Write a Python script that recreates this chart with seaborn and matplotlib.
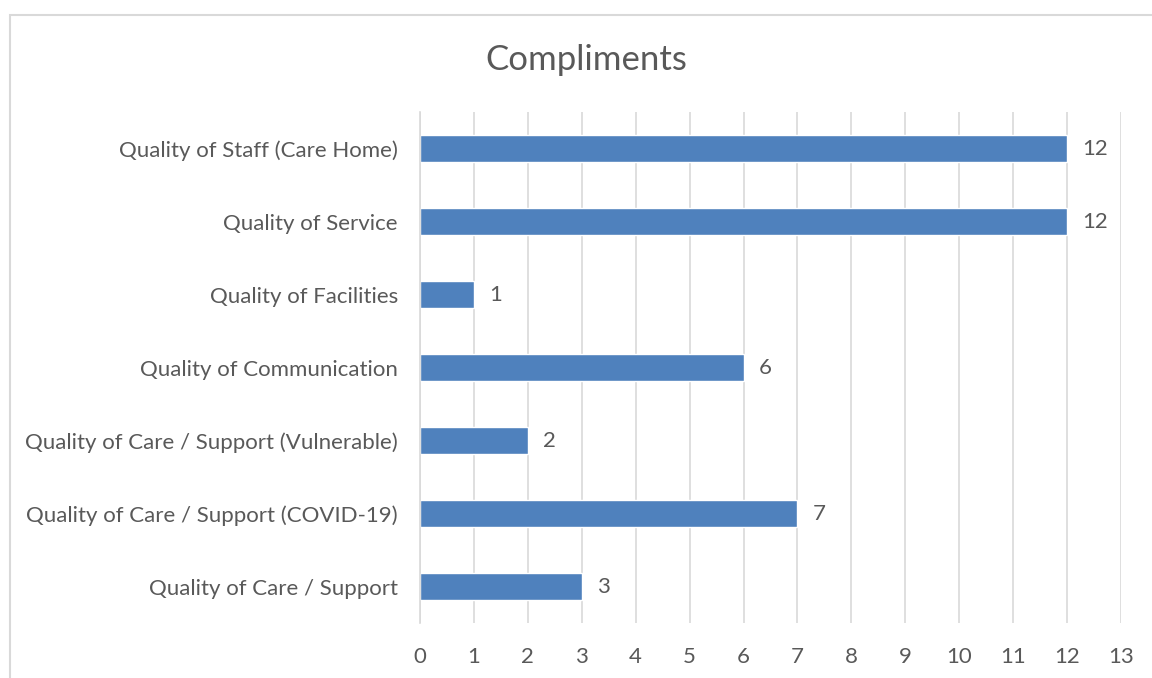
import matplotlib
matplotlib.use("Agg")
import matplotlib.pyplot as plt
import seaborn as sns
import pandas as pd
from matplotlib.patches import Rectangle

categories = [
    "Quality of Staff (Care Home)",
    "Quality of Service",
    "Quality of Facilities",
    "Quality of Communication",
    "Quality of Care / Support (Vulnerable)",
    "Quality of Care / Support (COVID-19)",
    "Quality of Care / Support",
]
values = [12, 12, 1, 6, 2, 7, 3]
x_ticks = list(range(0, 14))
title = "Compliments"

sns.set_theme(style="white")
plt.rcParams['font.family'] = ['Lato', 'DejaVu Sans']

W, H = 1152, 678
fig = plt.figure(figsize=(W / 100, H / 100), dpi=100)
ax = fig.add_axes([420 / W, 1 - 623 / H, (1121 - 420) / W, (623 - 112) / H])

df = pd.DataFrame({"category": categories, "value": values})
sns.barplot(data=df, x="value", y="category", orient="h", color="#4F81BD",
            saturation=1, width=0.36, ax=ax)

text_color = "#595959"
fs = 16
ax.set_xlim(0, 13)
ax.set_ylim(6.5, -0.5)
ax.set_xticks(x_ticks)
ax.set_xticklabels([str(t) for t in x_ticks])
ax.grid(axis="x", color="#D9D9D9", linewidth=1.2)
ax.set_axisbelow(True)
for s in ["top", "right", "bottom"]:
    ax.spines[s].set_visible(False)
ax.spines["left"].set_color("#D9D9D9")
ax.spines["left"].set_linewidth(1.2)
ax.tick_params(axis="x", length=0, pad=17, labelsize=fs, labelcolor=text_color)
ax.tick_params(axis="y", length=0, pad=16, labelsize=fs, labelcolor=text_color)
ax.set_xlabel("")
ax.set_ylabel("")

for i, v in enumerate(values):
    ax.text(v + 0.28, i, str(v), va="center", ha="left", fontsize=fs, color=text_color)

fig.text(586 / W, 1 - 60 / H, title, ha="center", va="center", fontsize=25, color=text_color)

fig.patches.append(Rectangle((10 / W, -0.1), 1.2, 1 - 15 / H + 0.1, transform=fig.transFigure,
                             fill=False, edgecolor="#D9D9D9", linewidth=1.5))

fig.savefig("out.png", dpi=100, facecolor="white")
